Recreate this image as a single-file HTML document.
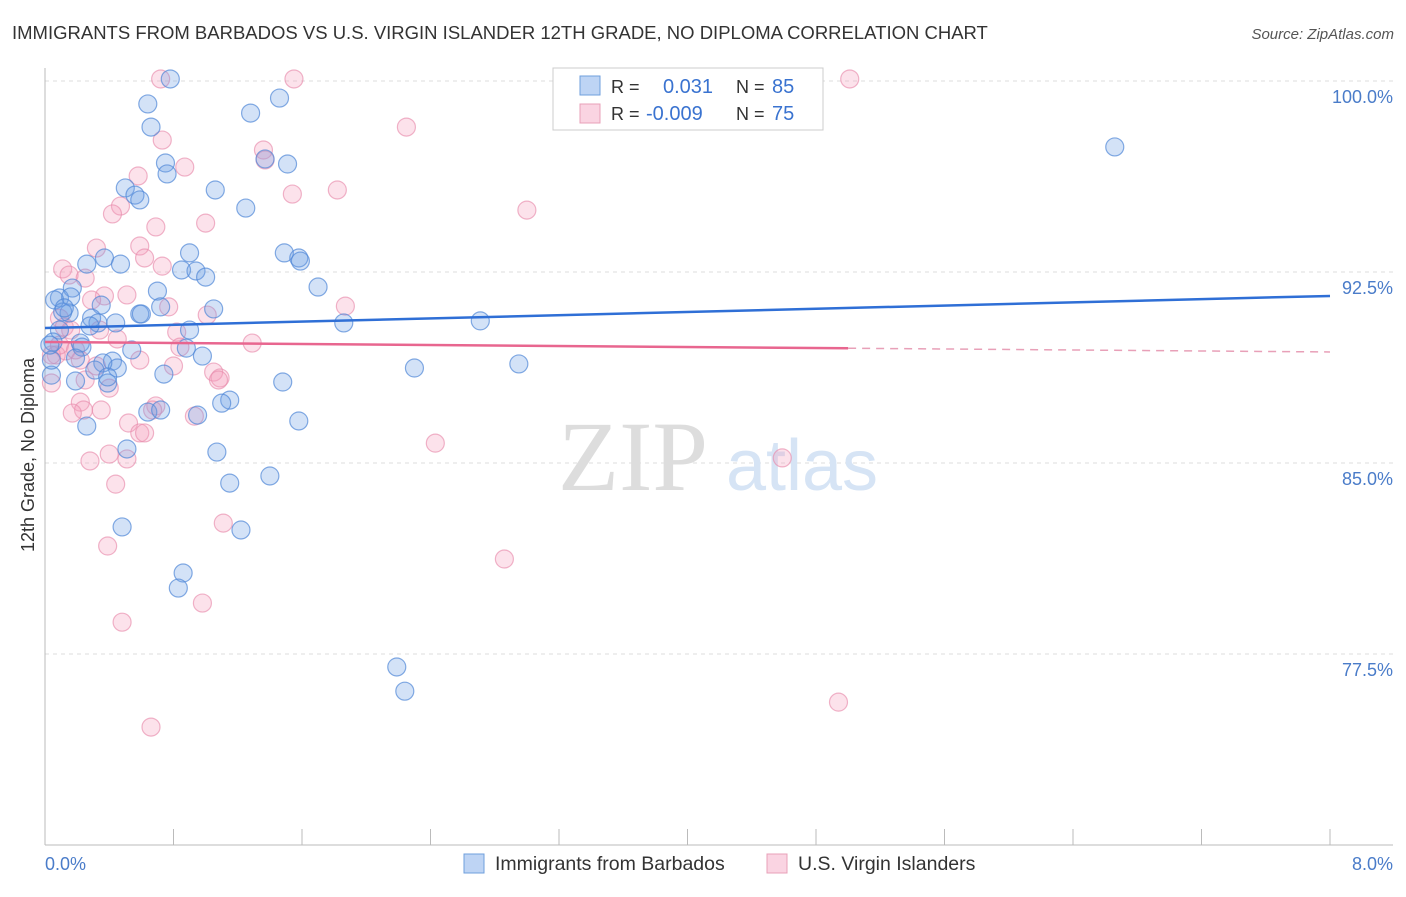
<!DOCTYPE html>
<html><head><meta charset="utf-8">
<style>
html,body{margin:0;padding:0;background:#fff;}
body{width:1406px;height:892px;overflow:hidden;font-family:"Liberation Sans",sans-serif;}
</style></head>
<body>
<svg id="chart" width="1406" height="892" xmlns="http://www.w3.org/2000/svg">
  <text x="12" y="39" font-size="18.5" fill="#333">IMMIGRANTS FROM BARBADOS VS U.S. VIRGIN ISLANDER 12TH GRADE, NO DIPLOMA CORRELATION CHART</text>
  <text x="1394" y="39" font-size="15" fill="#555" font-style="italic" text-anchor="end">Source: ZipAtlas.com</text>
  <g id="grid"></g>
  <text x="633" y="490" font-size="100" fill="#ddd" font-family="Liberation Serif,serif" text-anchor="middle">ZIP</text>
  <text x="802" y="490" font-size="72" fill="#d6e4f5" text-anchor="middle">atlas</text>
  <line x1="45" y1="68" x2="45" y2="845" stroke="#bbb"/>
  <line x1="45" y1="845" x2="1393" y2="845" stroke="#bbb"/>
  <g id="xticks"></g>
  <g id="yticks"></g>
  <g id="pts"></g>
  <g id="trends"></g>
  <text x="34" y="455" font-size="18" fill="#333" text-anchor="middle" transform="rotate(-90 34 455)">12th Grade, No Diploma</text>
  <text x="45" y="870" font-size="18" fill="#4a7cc9">0.0%</text>
  <text x="1393" y="870" font-size="18" fill="#4a7cc9" text-anchor="end">8.0%</text>
  <g>
    <rect x="553" y="68" width="270" height="62" fill="#fff" stroke="#ccc"/>
    <rect x="580" y="76" width="20" height="19" fill="rgba(110,160,230,0.45)" stroke="#6f9fdc"/>
    <rect x="580" y="104" width="20" height="19" fill="rgba(245,160,190,0.45)" stroke="#e8a0b8"/>
    <text x="611" y="93" font-size="18" fill="#333">R = </text><text x="663" y="93" font-size="20" fill="#3a73d0">0.031</text>
    <text x="736" y="93" font-size="18" fill="#333">N = </text><text x="772" y="93" font-size="20" fill="#3a73d0">85</text>
    <text x="611" y="120" font-size="18" fill="#333">R = </text><text x="646" y="120" font-size="20" fill="#3a73d0">-0.009</text>
    <text x="736" y="120" font-size="18" fill="#333">N = </text><text x="772" y="120" font-size="20" fill="#3a73d0">75</text>
  </g>
  <g>
    <rect x="464" y="854" width="20" height="19" fill="rgba(110,160,230,0.45)" stroke="#6f9fdc"/>
    <text x="495" y="870" font-size="19.5" fill="#333">Immigrants from Barbados</text>
  </g>
  <g>
    <rect x="767" y="854" width="20" height="19" fill="rgba(245,160,190,0.45)" stroke="#e8a0b8"/>
    <text x="798" y="870" font-size="19.5" fill="#333">U.S. Virgin Islanders</text>
  </g>
</svg>
<script>
const yTicks=[100,92.5,85,77.5];
const yTickLabels=["100.0%","92.5%","85.0%","77.5%"];
const xTickVals=[0,0.8,1.6,2.4,3.2,4.0,4.8,5.6,6.4,7.2,8.0];
const blueX=[0.78,0.64,0.66,1.46,1.28,0.75,0.76,1.51,1.37,0.50,0.56,0.59,1.06,1.25,0.90,0.85,0.94,1.00,1.49,1.58,1.59,1.70,0.26,0.37,0.47,0.17,0.09,0.06,0.16,0.35,0.70,0.72,0.59,0.60,1.05,0.15,0.11,0.29,0.33,0.28,0.90,1.86,2.71,0.09,0.05,0.22,0.23,0.54,0.88,0.98,0.42,0.45,0.36,0.74,0.39,0.19,0.04,1.48,1.15,1.10,0.95,1.58,0.64,0.26,0.51,1.07,1.15,1.40,0.48,1.22,0.86,0.83,2.19,2.24,2.30,2.95,6.66,0.04,0.03,0.12,0.31,0.39,0.72,0.44,0.19];
const blueY=[100.08,99.10,98.19,99.33,98.74,96.78,96.35,96.74,96.94,95.80,95.52,95.33,95.72,95.01,93.25,92.58,92.54,92.30,93.25,93.05,92.93,91.91,92.81,93.05,92.81,91.87,91.48,91.40,91.52,91.20,91.75,91.13,90.85,90.85,91.05,90.89,90.93,90.69,90.50,90.38,90.22,90.50,90.58,90.22,89.75,89.71,89.55,89.44,89.51,89.20,89.00,88.73,88.93,88.49,88.14,88.22,88.45,88.18,87.47,87.35,86.88,86.65,87.00,86.45,85.55,85.43,84.21,84.49,82.49,82.37,80.68,80.09,76.99,76.04,88.73,88.89,97.41,89.04,89.63,91.09,88.65,88.38,87.08,90.50,89.12];
const pinkX=[0.72,1.55,5.01,2.25,0.73,1.36,1.37,0.58,0.87,1.54,1.82,0.47,0.42,3.00,1.00,0.69,0.32,0.59,0.62,0.73,0.11,0.15,0.25,0.51,0.37,0.29,0.77,1.87,1.01,0.09,0.12,0.16,0.45,1.29,0.82,0.84,0.13,0.07,0.22,0.80,0.32,1.05,1.09,1.08,0.04,0.25,0.40,0.69,0.67,0.22,0.24,0.35,0.17,0.93,0.52,0.59,0.62,2.43,0.40,0.28,0.51,4.59,0.44,1.11,0.39,2.86,0.98,0.48,0.66,4.94,0.04,0.09,0.19,0.34,0.59];
const pinkY=[100.08,100.08,100.08,98.19,97.68,97.29,96.90,96.27,96.62,95.56,95.72,95.09,94.78,94.93,94.42,94.27,93.44,93.52,93.05,92.73,92.62,92.38,92.26,91.60,91.56,91.40,91.13,91.16,90.81,90.69,90.34,90.22,89.87,89.71,90.14,89.55,89.40,89.24,89.04,88.81,88.81,88.57,88.34,88.26,88.14,88.26,87.94,87.24,87.08,87.39,87.08,87.08,86.96,86.84,86.57,86.18,86.18,85.78,85.35,85.08,85.16,85.20,84.17,82.64,81.74,81.23,79.50,78.75,74.63,75.61,89.24,89.63,89.44,90.22,89.04];
const blueTrend=[90.30,91.56];
const pinkTrend=[89.75,89.36];
const pinkSolidEnd=5.0;

const NS="http://www.w3.org/2000/svg";
const sx=v=>45+v/8*1285;
const sy=v=>81+(100-v)/7.5*191;
function mk(tag,attrs,parent){const e=document.createElementNS(NS,tag);for(const k in attrs)e.setAttribute(k,attrs[k]);parent.appendChild(e);return e;}
const grid=document.getElementById('grid'),yt=document.getElementById('yticks'),xt=document.getElementById('xticks');
yTicks.forEach((v,i)=>{
  const l=mk('line',{x1:45,x2:1393,y1:sy(v),y2:sy(v),stroke:'#ddd','stroke-dasharray':'4,4'},grid);
  
  
  const t=mk('text',{x:1393,y:sy(v)+22,'font-size':18,fill:'#4a7cc9','text-anchor':'end'},yt);
  t.textContent=yTickLabels[i];
  
  
});
xTickVals.forEach(v=>{
  const l=mk('line',{x1:sx(v),x2:sx(v),y1:829,y2:845,stroke:'#bbb'},xt);
  
  
});
const pts=document.getElementById('pts');
pinkX.forEach((x,i)=>{
  const c=mk('circle',{cx:sx(x),cy:sy(pinkY[i]),r:9,fill:'rgba(245,160,190,0.3)',stroke:'rgba(232,140,172,0.65)','stroke-width':1.2},pts);
  
  
});
blueX.forEach((x,i)=>{
  const c=mk('circle',{cx:sx(x),cy:sy(blueY[i]),r:9,fill:'rgba(110,160,230,0.3)',stroke:'rgba(80,135,215,0.7)','stroke-width':1.2},pts);
  
  
});
const tr=document.getElementById('trends');
const b=mk('line',{x1:sx(0),y1:sy(blueTrend[0]),x2:sx(8),y2:sy(blueTrend[1]),stroke:'#2f6fd6','stroke-width':2.5},tr);


const pMid=pinkTrend[0]+(pinkTrend[1]-pinkTrend[0])*pinkSolidEnd/8;
const p1=mk('line',{x1:sx(0),y1:sy(pinkTrend[0]),x2:sx(pinkSolidEnd),y2:sy(pMid),stroke:'#e8668f','stroke-width':2.5},tr);


const p2=mk('line',{x1:sx(pinkSolidEnd),y1:sy(pMid),x2:sx(8),y2:sy(pinkTrend[1]),stroke:'#e8a0b8','stroke-width':1.5,'stroke-dasharray':'8,6'},tr);


</script>
</body></html>
